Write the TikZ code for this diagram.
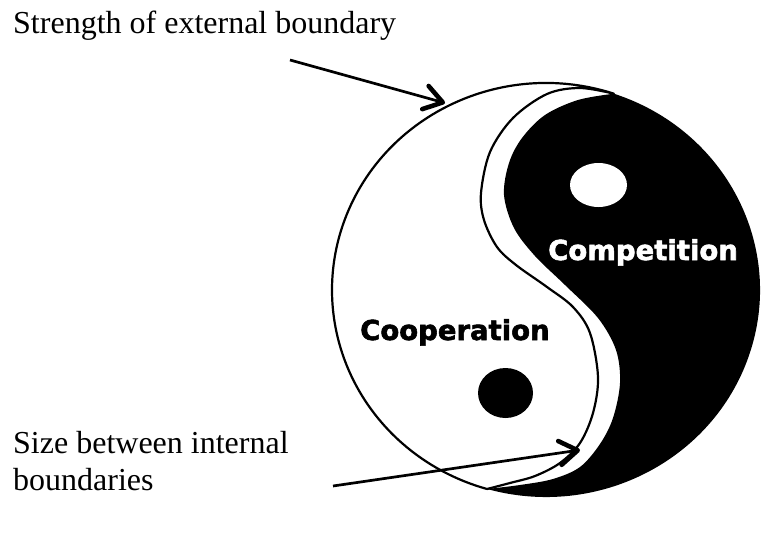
\documentclass[tikz,border=0pt]{standalone}
\usepackage{fontspec}
\setmainfont{Liberation Serif}
\newfontfamily\yylabelfont[FakeBold=2]{DejaVu Sans Bold}
\usetikzlibrary{arrows.meta}
\begin{document}
\begin{tikzpicture}[x=1pt,y=-1pt,
  outline/.style={line width=2.2pt, line join=round},
  pointer/.style={line width=2.7pt, -{Straight Barb[length=18pt,width=24pt,line width=0pt 1.7,round]}},
  caption/.style={font=\fontsize{32}{37}\selectfont, inner sep=0pt, align=left},
  yylabel/.style={font=\yylabelfont\fontsize{27.5}{30}\selectfont, inner sep=0pt}]
\useasboundingbox (0,0) rectangle (761,535);
\fill[white] (0,0) rectangle (761,535);
% black half
\fill[black] plot[smooth, tension=0.55] coordinates {(487,489) (520,485) (553,479) (580,467) (600,444) (613,418) (620,383) (616,350) (598,318) (565,285) (535,256) (514,228) (504,195) (509,163) (522,138) (545,115) (578,100) (613.9,93.7)}
  arc[start angle=-71.5, end angle=106, x radius=214, y radius=207] -- cycle;
% white half with its outline
\draw[outline, fill=white] plot[smooth, tension=0.55] coordinates {(487,489) (510,483) (535,476) (560,463) (580,443) (593,413) (598,377) (590,333) (573,307) (547,287) (516,265) (497,247) (484,220) (481,193) (490,152) (513,118) (547,94) (580,88) (613.9,93.7)}
  arc[start angle=-71.5, end angle=-254, x radius=214, y radius=207] -- cycle;
% dots
\fill[white] (598.5,185) ellipse [x radius=28.5, y radius=22];
\fill[black] (505.5,393) ellipse [x radius=27.5, y radius=25];
% labels
\node[yylabel, anchor=base west, text=white] (comp) at (548,260) {Competition};
\node[yylabel, anchor=base west] (coop) at (360,340) {Cooperation};
\node[caption, anchor=base west] (t1) at (13,34) {Strength of external boundary};
\node[caption, anchor=base west] (t2) at (13,490) {Size between internal\\boundaries};
% arrows
\coordinate (a1s) at (290,60);
\coordinate (a1e) at (445,103);
\coordinate (a2s) at (333,486);
\coordinate (a2e) at (580,450);
\draw[pointer] (a1s) -- (a1e);
\draw[pointer] (a2s) -- (a2e);
\end{tikzpicture}
\end{document}
